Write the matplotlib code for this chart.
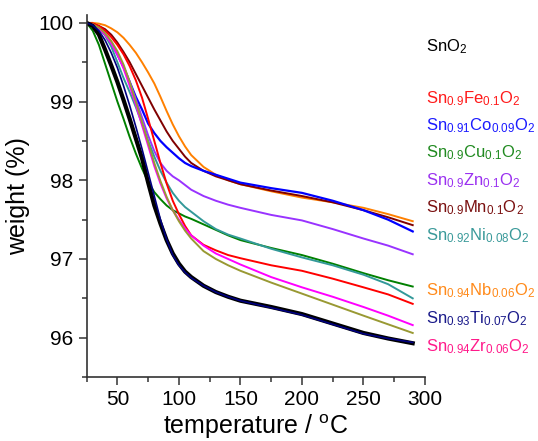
import matplotlib
matplotlib.use("Agg")
import matplotlib.pyplot as plt
from matplotlib.ticker import MultipleLocator

plt.rcParams['font.family'] = ['Liberation Sans', 'DejaVu Sans']
plt.rcParams['mathtext.fontset'] = 'custom'
plt.rcParams['mathtext.rm'] = 'Liberation Sans'
plt.rcParams['mathtext.it'] = 'Liberation Sans:italic'
plt.rcParams['mathtext.default'] = 'rm'

temp = [25, 30, 35, 40, 45, 50, 55, 60, 65, 70, 75, 80, 85, 90, 95, 100, 105, 110,
        120, 130, 140, 150, 175, 200, 225, 250, 270, 290]

w_SnO2 = [100.00, 99.96, 99.85, 99.66, 99.46, 99.25, 99.02, 98.78, 98.53, 98.28, 97.97, 97.68, 97.45, 97.24,
          97.07, 96.94, 96.84, 96.77, 96.66, 96.58, 96.52, 96.47, 96.39, 96.30, 96.18, 96.06, 95.99, 95.93]
w_Ti = [100.00, 99.97, 99.90, 99.78, 99.62, 99.43, 99.20, 98.95, 98.68, 98.40, 98.10, 97.80, 97.50, 97.25,
        97.05, 96.92, 96.83, 96.76, 96.66, 96.58, 96.52, 96.47, 96.38, 96.29, 96.17, 96.05, 95.99, 95.94]
w_Cu = [100.00, 99.90, 99.72, 99.48, 99.24, 99.00, 98.78, 98.55, 98.34, 98.15, 97.98, 97.85, 97.76, 97.68,
        97.62, 97.58, 97.54, 97.51, 97.44, 97.37, 97.30, 97.24, 97.14, 97.05, 96.94, 96.82, 96.73, 96.65]
w_Ni = [100.00, 99.98, 99.93, 99.84, 99.70, 99.50, 99.30, 99.12, 98.93, 98.72, 98.50, 98.30, 98.12, 97.97,
        97.84, 97.74, 97.66, 97.60, 97.48, 97.38, 97.31, 97.26, 97.13, 97.02, 96.92, 96.80, 96.68, 96.50]
w_Fe = [100.00, 99.99, 99.96, 99.90, 99.82, 99.72, 99.60, 99.45, 99.27, 99.05, 98.78, 98.50, 98.22, 97.96,
        97.74, 97.57, 97.42, 97.30, 97.18, 97.11, 97.05, 97.01, 96.92, 96.85, 96.75, 96.64, 96.55, 96.43]
w_Zr = [100.00, 99.98, 99.93, 99.85, 99.74, 99.60, 99.42, 99.20, 98.96, 98.70, 98.44, 98.18, 97.96, 97.77,
        97.62, 97.50, 97.39, 97.30, 97.17, 97.07, 97.00, 96.93, 96.77, 96.64, 96.52, 96.39, 96.28, 96.16]
w_olive = [100.00, 99.98, 99.94, 99.87, 99.77, 99.64, 99.47, 99.25, 99.00, 98.74, 98.48, 98.22, 97.99, 97.79,
           97.62, 97.48, 97.36, 97.26, 97.10, 97.00, 96.92, 96.85, 96.70, 96.56, 96.42, 96.28, 96.17, 96.06]
w_Co = [100.00, 99.98, 99.94, 99.86, 99.75, 99.60, 99.44, 99.25, 99.06, 98.90, 98.72, 98.60, 98.50, 98.42,
        98.35, 98.28, 98.22, 98.18, 98.12, 98.07, 98.02, 97.97, 97.90, 97.84, 97.74, 97.62, 97.50, 97.35]
w_Mn = [100.00, 99.99, 99.96, 99.92, 99.85, 99.75, 99.63, 99.50, 99.35, 99.20, 99.05, 98.90, 98.76, 98.62,
        98.50, 98.40, 98.30, 98.22, 98.12, 98.05, 98.00, 97.95, 97.87, 97.80, 97.72, 97.62, 97.53, 97.43]
w_Nb = [100.00, 100.00, 99.99, 99.97, 99.93, 99.88, 99.81, 99.72, 99.62, 99.50, 99.37, 99.23, 99.06, 98.88,
        98.71, 98.56, 98.43, 98.32, 98.17, 98.07, 98.00, 97.95, 97.86, 97.78, 97.72, 97.65, 97.57, 97.48]
w_Zn = [100.00, 99.98, 99.93, 99.85, 99.74, 99.60, 99.44, 99.25, 99.03, 98.80, 98.57, 98.37, 98.22, 98.12,
        98.05, 98.00, 97.94, 97.88, 97.80, 97.74, 97.69, 97.65, 97.56, 97.49, 97.38, 97.26, 97.17, 97.06]

labels = [r'SnO$_2$', r'Sn$_{0.9}$Fe$_{0.1}$O$_2$', r'Sn$_{0.91}$Co$_{0.09}$O$_2$',
          r'Sn$_{0.9}$Cu$_{0.1}$O$_2$', r'Sn$_{0.9}$Zn$_{0.1}$O$_2$', r'Sn$_{0.9}$Mn$_{0.1}$O$_2$',
          r'Sn$_{0.92}$Ni$_{0.08}$O$_2$', r'Sn$_{0.94}$Nb$_{0.06}$O$_2$', r'Sn$_{0.93}$Ti$_{0.07}$O$_2$',
          r'Sn$_{0.94}$Zr$_{0.06}$O$_2$']
label_colors = ['#000000', '#ff1a1a', '#1a1aff', '#208a20', '#9a30f0', '#7a1010',
                '#3a9a9a', '#ff8a1a', '#1a1a8a', '#ff1a8a']
label_y = [47, 99, 126, 153, 181, 208, 236, 291, 319, 347]

fig = plt.figure(figsize=(5.38, 4.41), dpi=100)
ax = fig.add_axes([0.161, 0.145, 0.629, 0.821])

ax.plot(temp, w_Nb, color='#ff8000', lw=1.4)
ax.plot(temp, w_Mn, color='#800000', lw=1.4)
ax.plot(temp, w_Co, color='#0000ff', lw=1.6)
ax.plot(temp, w_Zn, color='#9933ff', lw=1.4)
ax.plot(temp, w_Cu, color='#008000', lw=1.4)
ax.plot(temp, w_Ni, color='#339999', lw=1.4)
ax.plot(temp, w_Fe, color='#ff0000', lw=1.4)
ax.plot(temp, w_Zr, color='#ff00ff', lw=1.4)
ax.plot(temp, w_olive, color='#999933', lw=1.4)
ax.plot(temp, w_SnO2, color='#000000', lw=3.0)
ax.plot(temp, w_Ti, color='#000080', lw=1.2)

ax.set_xlim(25, 300)
ax.set_ylim(95.5, 100.1)
ax.xaxis.set_major_locator(MultipleLocator(50))
ax.xaxis.set_minor_locator(MultipleLocator(25))
ax.yaxis.set_major_locator(MultipleLocator(1))
ax.yaxis.set_minor_locator(MultipleLocator(0.5))
ax.spines['top'].set_visible(False)
ax.spines['right'].set_visible(False)
for s in ('left', 'bottom'):
    ax.spines[s].set_linewidth(1.2)
    ax.spines[s].set_color('#333333')
ax.tick_params(which='major', direction='out', length=6, width=1.1, labelsize=15, colors='#333333', labelcolor='black')
ax.tick_params(which='minor', direction='out', length=3.5, width=1.1, colors='#333333')
ax.set_xlabel('temperature / $^{o}$C', fontsize=18, labelpad=2)
ax.set_ylabel('weight (%)', fontsize=18, labelpad=6)

for lab, col, yp in zip(labels, label_colors, label_y):
    fig.text(426 / 538, 1 - yp / 441, lab, color=col, fontsize=12, va='center', ha='left')

fig.savefig('out.png', dpi=100)
